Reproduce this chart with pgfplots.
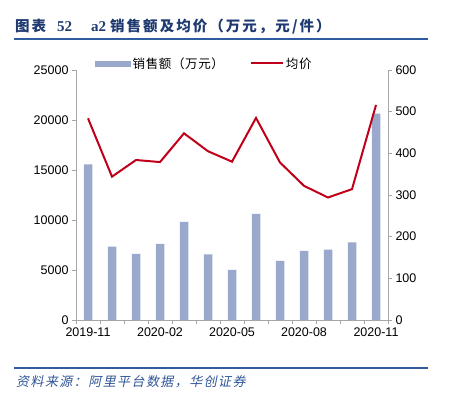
\documentclass[border=0pt]{standalone}
\usepackage{fontspec}
\setmainfont{Liberation Sans}
\newfontfamily\cjk{Noto Sans CJK SC}[LetterSpace=5]
\newfontfamily\cjkt{Noto Sans CJK SC}[LetterSpace=14]
\newfontfamily\tnr{Liberation Serif}
\newfontfamily\cjks{Noto Sans CJK SC}[FakeSlant=0.2, LetterSpace=11]
\usepackage{pgfplots}
\pgfplotsset{compat=1.18}
\definecolor{barc}{HTML}{9AA8CB}
\definecolor{linec}{HTML}{C00018}
\definecolor{axc}{HTML}{A6A6A6}
\definecolor{titc}{HTML}{1F3A70}
\definecolor{rulec}{HTML}{2E5C9E}
\definecolor{srcc}{HTML}{2F5597}

\pgfplotstableread{
x sales price
0 15570 484
1 7330 344
2 6600 384
3 7600 379
4 9800 448
5 6550 405
6 5000 380
7 10600 485
8 5900 378
9 6900 322
10 7030 294
11 7770 314
12 20630 516
}\datatab

\begin{document}
\begin{tikzpicture}
\path[use as bounding box] (0bp,0bp) rectangle (449bp,397bp);
\draw[rulec, line width=2bp] (14bp,357.5bp) -- (428bp,357.5bp);
\draw[rulec, line width=2bp] (14bp,28.7bp) -- (428bp,28.7bp);
\node[anchor=base west, inner sep=0, text=titc, font=\fontsize{14.5bp}{16bp}\selectfont\cjkt\bfseries] at (15bp,365bp) {图表};
\node[anchor=base west, inner sep=0, text=titc, font=\fontsize{15bp}{16bp}\selectfont\tnr\bfseries] at (57bp,365bp) {52};
\node[anchor=base west, inner sep=0, text=titc, font=\fontsize{15bp}{16bp}\selectfont\tnr\bfseries] at (91bp,365bp) {a2};
\node[anchor=base west, inner sep=0, text=titc, font=\fontsize{14.5bp}{16bp}\selectfont\cjkt\bfseries] at (110bp,365bp) {销售额及均价（万元，元/件）};
\node[anchor=base west, inner sep=0, text=srcc, font=\fontsize{13bp}{15bp}\selectfont\cjks] at (16bp,11bp) {资料来源：阿里平台数据，华创证券};

\begin{axis}[
  at={(76bp,77bp)}, anchor=south west,
  width=312bp, height=250bp, scale only axis,
  xmin=-0.5, xmax=12.5, ymin=0, ymax=25000,
  ytick={0,5000,...,25000},
  xtick={0,3,6,9,12},
  xticklabels={2019-11,2020-02,2020-05,2020-08,2020-11},
  minor xtick={-0.5,0.5,...,12.5},
  major x tick style={draw=none},
  minor tick length=4bp, major tick length=4bp,
  tick align=outside,
  axis y line*=left, axis x line*=bottom,
  axis line style={axc, line width=0.8bp, -},
  tick style={axc, line width=0.8bp},
  tick label style={font=\fontsize{12.5bp}{14bp}\selectfont, text=black},
  /pgf/number format/assume math mode=true,
  /pgf/number format/1000 sep={},
  scaled y ticks=false,
]
\addplot[ybar, bar width=8.5bp, fill=barc, draw=none] table[x=x, y=sales] {\datatab};
\end{axis}

\begin{axis}[
  at={(76bp,77bp)}, anchor=south west,
  width=312bp, height=250bp, scale only axis,
  xmin=-0.5, xmax=12.5, ymin=0, ymax=600,
  ytick={0,100,...,600},
  major tick length=4bp,
  tick align=outside,
  axis y line*=right, axis x line=none,
  axis line style={axc, line width=0.8bp, -},
  tick style={axc, line width=0.8bp},
  tick label style={font=\fontsize{12.5bp}{14bp}\selectfont, text=black},
  /pgf/number format/assume math mode=true,
  legend style={draw=none, fill=none, at={(0.061,1.026)}, anchor=west, inner sep=0pt,
    font=\fontsize{12.5bp}{14bp}\selectfont\cjk,
    nodes={inner xsep=2bp}},
  legend columns=2,
  legend cell align=left,
  /tikz/every even column/.append style={column sep=24bp},
]
\addlegendimage{legend image code/.code={\fill[barc] (0bp,-2.75bp) rectangle (35bp,2.75bp);}}
\addlegendentry{销售额（万元）}
\addplot[linec, line width=2bp, legend image code/.code={\draw[linec,line width=2bp] (0bp,0bp) -- (32bp,0bp);}] table[x=x, y=price] {\datatab};
\addlegendentry{均价}
\end{axis}
\end{tikzpicture}
\end{document}
